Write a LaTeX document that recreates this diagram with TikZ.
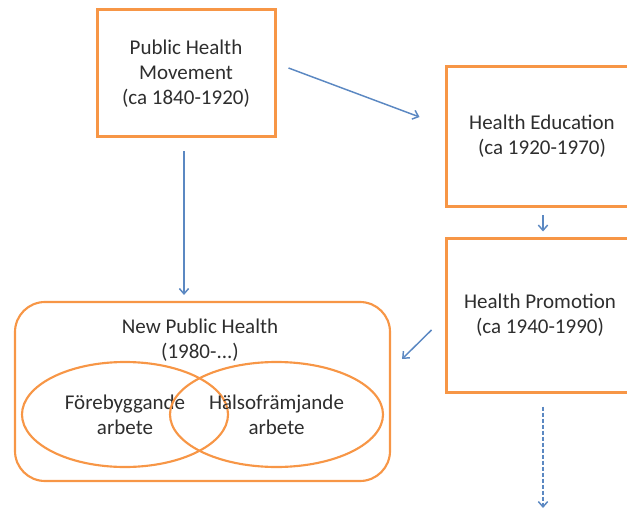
\documentclass[tikz,border=0pt]{standalone}
\usepackage{fontspec}
\setmainfont{Carlito}
\usetikzlibrary{arrows.meta,shapes.geometric,calc}
\definecolor{boxorange}{HTML}{F79646}
\definecolor{arrowblue}{HTML}{5B88C2}
\definecolor{txt}{HTML}{2E2E2E}
\begin{document}
\begin{tikzpicture}[x=0.75pt,y=-0.75pt,
  every node/.style={font=\fontsize{15.75pt}{18.9pt}\selectfont,text=txt,align=center},
  era/.style={draw=boxorange,line width=2.25pt,rectangle,inner sep=0pt},
  venn/.style={draw=boxorange,line width=1.6pt,ellipse,inner sep=0pt,minimum height=78.75pt},
  link/.style={draw=arrowblue,line width=1.1pt,-{Straight Barb[length=4pt,width=7pt]}}]
\useasboundingbox (0,0) rectangle (627,513);
\clip (0,0) rectangle (627,513);

% period boxes
\node[era,minimum width=133.5pt,minimum height=95.25pt] (phm) at (186,73.5)
  {Public Health\\Movement\\(ca 1840-1920)};
\node[era,minimum width=144pt,minimum height=105pt] (he) at (542,136.5)
  {Health Education\\(ca 1920-1970)};
\node[era,minimum width=141pt,minimum height=115.5pt] (hp) at (540,315)
  {Health Promotion\\(ca 1940-1990)};

% new public health frame with overlapping fields
\node[draw=boxorange,line width=1.6pt,rounded corners=22.5pt,
  minimum width=281.25pt,minimum height=134.25pt] (nph) at (202.5,391.5) {};
\node (nphtitle) at (200,340.5) {New Public Health\\(1980-...)};
\node[venn,minimum width=154.5pt] (prev) at (125,414.5) {Förebyggande\\arbete};
\node[venn,minimum width=159.75pt] (prom) at (276.5,414.5) {Hälsofrämjande\\arbete};

% connector end points
\coordinate (a1s) at ($(phm.east)+(12,-5.5)$);
\coordinate (a1e) at ($(he.west)+(-25,-19.5)$);
\coordinate (a2s) at ($(phm.south)+(-2,13)$);
\coordinate (a2e) at ($(nph.north)+(-18.5,-6)$);
\coordinate (a3s) at ($(he.south)+(1,7)$);
\coordinate (a3e) at ($(hp.north)+(3,-5)$);
\coordinate (a4s) at ($(hp.west)+(-13,15)$);
\coordinate (a4e) at ($(nph.east)+(11,-32.5)$);
\coordinate (a5s) at ($(hp.south)+(3,13)$);
\coordinate (a5e) at (543,508);

\draw[link] (a1s) -- (a1e);
\draw[link] (a2s) -- (a2e);
\draw[link] (a3s) -- (a3e);
\draw[link] (a4s) -- (a4e);
\draw[link,dash pattern=on 3pt off 1.5pt] (a5s) -- (a5e);
\end{tikzpicture}
\end{document}
